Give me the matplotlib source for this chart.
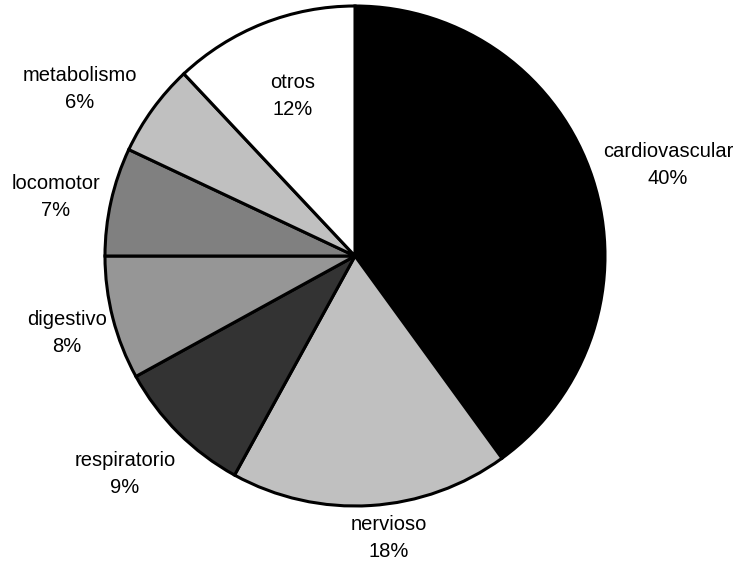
import matplotlib
matplotlib.use('Agg')
from matplotlib import pyplot as plt

# share of cases by system
categories = ['cardiovascular', 'nervioso', 'respiratorio', 'digestivo',
              'locomotor', 'metabolismo', 'otros']
shares = [40, 18, 9, 8, 7, 6, 12]
colors = ['#000000', '#c0c0c0', '#333333', '#969696', '#808080', '#c0c0c0', '#ffffff']
# where each label sits, in units of the pie radius
label_xy = [(1.252, 0.364), (0.136, -1.128), (-0.92, -0.872), (-1.152, -0.308),
            (-1.196, 0.236), (-1.10, 0.668), (-0.248, 0.64)]

plt.rcParams['font.family'] = ['Liberation Sans', 'DejaVu Sans']

fig = plt.figure(figsize=(7.4, 5.63), dpi=100)
ax = fig.add_axes([105/740, 57/563, 500/740, 500/563])

wedges, _ = ax.pie(shares, colors=colors, startangle=90, counterclock=False,
                   wedgeprops=dict(edgecolor='black', linewidth=2.2))

for (x, y), name, val in zip(label_xy, categories, shares):
    ax.text(x, y, f'{name}\n{val}%', ha='center', va='center',
            fontsize=14.5, linespacing=1.55, clip_on=False)

ax.set_xlim(-1, 1)
ax.set_ylim(-1, 1)
ax.set_aspect('equal')
ax.axis('off')

plt.savefig('out.png', dpi=100)
